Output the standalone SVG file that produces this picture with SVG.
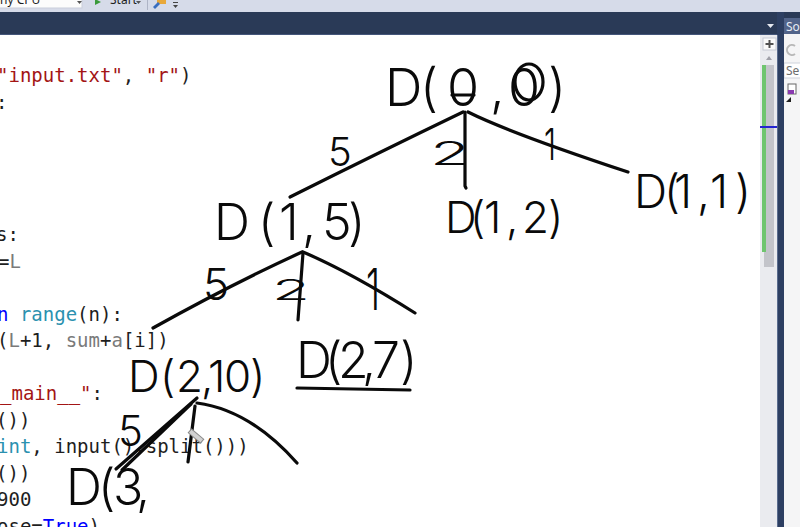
<svg xmlns="http://www.w3.org/2000/svg" width="800" height="527" viewBox="0 0 800 527">
<style>
.code{font-family:"DejaVu Sans Mono","Liberation Mono",monospace;font-size:19px;fill:#1e1e1e;white-space:pre}
.str{fill:#a31515}
.typ{fill:#2b91af}
.var{fill:#7a7a7a}
.kw{fill:#0000ff}
.ui{font-family:"Noto Sans","Liberation Sans",sans-serif;font-size:12px}
.hw{font-family:Inter,"Liberation Sans",Arial,sans-serif;font-weight:300;fill:#0a0a0a}
.ink{fill:none;stroke:#0a0a0a;stroke-width:3.2;stroke-linecap:round;stroke-linejoin:round}
</style>
<!-- background -->
<rect x="0" y="0" width="800" height="527" fill="#ffffff"/>
<!-- top toolbar -->
<rect x="0" y="0" width="800" height="12" fill="#d6dbe9"/>
<rect x="-1" y="-2" width="83" height="10" fill="#fcfcfc" stroke="#c9cedb"/>
<text class="ui" x="0" y="4" fill="#1e1e1e">ny CPU</text>
<polygon points="77,1 82,1 79.5,4" fill="#555"/>
<polygon points="95,-1 101,2 95,5" fill="#3a9a3a"/>
<text class="ui" x="110" y="4" fill="#1e1e1e">Start</text>
<polygon points="136,1 141,1 138.5,4" fill="#555"/>
<rect x="147" y="0" width="1" height="10" fill="#aeb4c6"/>
<rect x="157" y="0" width="9" height="4" fill="#e8a83a"/>
<polygon points="153,7 158,2 160,4 155,9" fill="#3a6fc0"/>
<rect x="173" y="2" width="5" height="1" fill="#444"/>
<polygon points="173,5 178,5 175.5,8" fill="#444"/>
<!-- dark band -->
<rect x="0" y="12" width="800" height="23" fill="#2a3a57"/>
<rect x="0" y="34" width="784" height="1" fill="#44567a"/>
<polygon points="767,24 774,24 770.5,28" fill="#e6e9f0"/>
<!-- solution explorer tab and panel -->
<rect x="784" y="18" width="16" height="16" fill="#52648a"/>
<text class="ui" x="786" y="31" fill="#e9edf5">Sol</text>
<rect x="784" y="34" width="16" height="493" fill="#f5f5f6"/>
<path d="M795 46 A5 5 0 1 0 795 54" fill="none" stroke="#b8b8b8" stroke-width="2"/>
<rect x="784" y="63" width="18" height="15" fill="#ffffff" stroke="#cfd3dc"/>
<text class="ui" x="786" y="75" fill="#6d6d6d">Se</text>
<rect x="788" y="84" width="8" height="10" fill="#ffffff" stroke="#666" stroke-width="1"/>
<rect x="788" y="90" width="6" height="4" fill="#8a3ab0"/>
<polygon points="786,102 791,97 791,102" fill="#1e1e1e"/>
<!-- vertical dark separator -->
<rect x="777" y="12" width="7" height="515" fill="#2d3f62"/>
<rect x="777" y="35" width="1" height="492" fill="#5a6c8e"/>
<!-- editor scrollbar column -->
<rect x="760" y="35" width="17" height="492" fill="#eaebef"/>
<rect x="763" y="38" width="13" height="12" fill="#fafafa" stroke="#c6cad4"/>
<path d="M769.5 40 V48 M765.5 44 H773.5" stroke="#505050" stroke-width="2"/>
<polygon points="766,60 772,60 769,56" fill="#a0a0a8"/>
<rect x="764" y="65" width="10" height="202" fill="#c3c4ca"/>
<rect x="762" y="65" width="4" height="187" fill="#6fc56f"/>
<rect x="760" y="126" width="17" height="2" fill="#2424d0"/>
<!-- code text -->
<g id="code">
<text class="code" x="-3" y="82"><tspan class="str">"input.txt"</tspan>, <tspan class="str">"r"</tspan>)</text>
<text class="code" x="-4" y="108.5">:</text>
<text class="code" x="-4" y="241">s:</text>
<text class="code" x="-2" y="267.5">=<tspan class="var">L</tspan></text>
<text class="code" x="-3" y="320.5"><tspan class="kw">n</tspan> <tspan class="typ">range</tspan>(n):</text>
<text class="code" x="-3" y="347">(<tspan class="var">L</tspan>+1, <tspan class="var">sum</tspan>+<tspan class="var">a</tspan>[i])</text>
<text class="code" x="0" y="400"><tspan class="str">_main__"</tspan>:</text>
<text class="code" x="-4" y="426.5">())</text>
<text class="code" x="-3" y="453"><tspan class="typ">int</tspan>, input().split()))</text>
<text class="code" x="-4" y="479.5">())</text>
<text class="code" x="-3" y="506">900</text>
<text class="code" x="-3" y="532.5">ose=<tspan class="kw">True</tspan>)</text>
</g>
<!-- connectors -->
<g id="connectors">
<path class="ink" d="M463 112 Q380 152 290 197"/>
<path class="ink" d="M465 112 L465 186 l1 2"/>
<path class="ink" d="M468 112 Q510 133 628 172"/>
<path class="ink" d="M302 252 Q230 285 153 328"/>
<path class="ink" d="M303 253 L298 320"/>
<path class="ink" d="M303 252 Q350 272 415 313"/>
<path class="ink" d="M197 398 L116 469"/>
<path class="ink" d="M191 404 L122 470"/>
<path class="ink" d="M195 406 L188 462"/>
<path class="ink" d="M197 403 Q250 410 297 463"/>
<text class="hw" x="328" y="166" font-size="40">5</text>
<text class="hw" x="430" y="165" font-size="32" textLength="40" lengthAdjust="spacingAndGlyphs">2</text>
<text class="hw" x="544" y="160" font-size="44" textLength="12" lengthAdjust="spacingAndGlyphs">1</text>
<text class="hw" x="203" y="300" font-size="44">5</text>
<text class="hw" x="272" y="300" font-size="28" textLength="38" lengthAdjust="spacingAndGlyphs">2</text>
<text class="hw" x="366" y="310" font-size="58" textLength="14" lengthAdjust="spacingAndGlyphs">1</text>
<text class="hw" x="118" y="446" font-size="42">5</text>
</g>
<!-- nodes -->
<g id="node-d00">
<text class="hw" x="385 420 447 490 508 548" y="106" font-size="52">D(0,0)</text>
<path class="ink" d="M452 95 H474"/>
<ellipse class="ink" cx="529" cy="82" rx="14" ry="18"/>
</g>
<g id="node-d12">
<text class="hw" x="445 470 484 506 522 548" y="233" font-size="44">D(1,2)</text>
</g>
<g id="node-d11">
<text class="hw" x="634 664 674 697 710 735" y="208" font-size="46">D(1,1)</text>
</g>
<g id="node-d15">
<text class="hw" x="214 258 279 302 322 348" y="240" font-size="50">D(1,5)</text>
</g>
<g id="node-d210">
<text class="hw" x="128 160 176 201 208 224 250" y="392" font-size="44">D(2,10)</text>
</g>
<g id="node-d27">
<text class="hw" x="296 325 338 362 372 400" y="378" font-size="50">D(2,7)</text>
<path class="ink" d="M297 388 L410 390"/>
</g>
<g id="node-d3">
<text class="hw" x="66 98 113 136" y="505" font-size="50">D(3,</text>
</g>
<!-- mouse pointer -->
<rect x="188" y="433.5" width="16" height="5" fill="#d2d2d2" stroke="#8a8a8a" stroke-width="1" transform="rotate(40 196 436)"/>
</svg>
